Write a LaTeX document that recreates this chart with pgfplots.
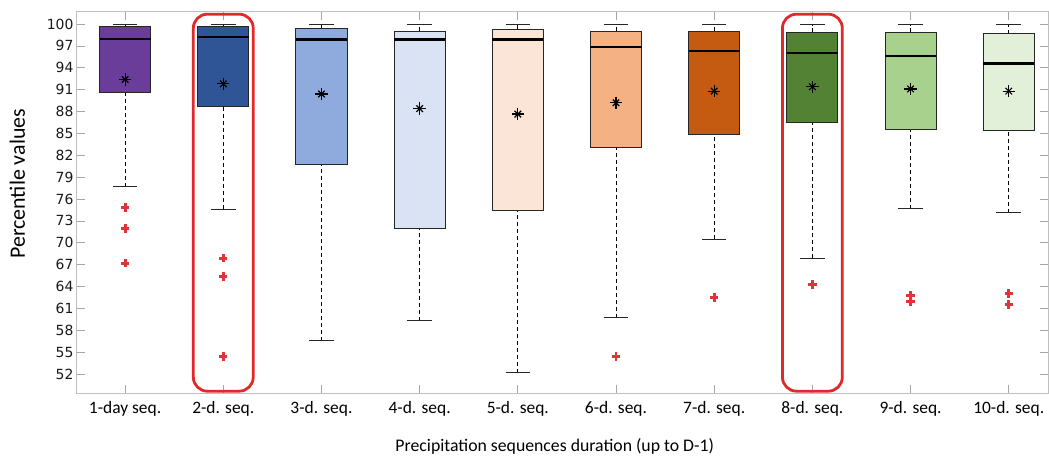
\documentclass[border=0pt]{standalone}
\usepackage{pgfplots}
\pgfplotsset{compat=1.18}
\usepackage{fontspec}
\setmainfont{Carlito}
\newfontfamily\dejavu{DejaVu Sans}
\definecolor{c1}{HTML}{6A3D9A}
\definecolor{c2}{HTML}{2F5597}
\definecolor{c3}{HTML}{8FAADC}
\definecolor{c4}{HTML}{DAE3F3}
\definecolor{c5}{HTML}{FBE5D6}
\definecolor{c6}{HTML}{F4B183}
\definecolor{c7}{HTML}{C55A11}
\definecolor{c8}{HTML}{548235}
\definecolor{c9}{HTML}{A9D18E}
\definecolor{c10}{HTML}{E2F0D9}
\definecolor{outred}{HTML}{E0343A}
\definecolor{annred}{HTML}{E02A2A}
\pgfplotsset{
  boxst/.style={fill=#1, draw=black!85, line width=0.9bp},
}
\begin{document}
\begin{tikzpicture}
\begin{axis}[
  name=ax,
  scale only axis, width=971bp, height=381bp,
  xmin=0.51, xmax=10.4, ymin=49.4, ymax=101.65,
  axis line style={draw=black!25, line width=1bp},
  tick align=inside,
  xtick pos=both, ytick pos=both,
  major tick length=8bp,
  tick style={black!35, line width=0.8bp},
  xtick={1,2,3,4,5,6,7,8,9,10},
  xticklabels={1-day seq., 2-d. seq., 3-d. seq., 4-d. seq., 5-d. seq., 6-d. seq., 7-d. seq., 8-d. seq., 9-d. seq., 10-d. seq.},
  xticklabel style={font=\fontsize{17.5}{20}\selectfont, yshift=-5bp},
  ytick={52,55,58,61,64,67,70,73,76,79,82,85,88,91,94,97,100},
  /pgf/number format/assume math mode=true,
  yticklabel style={font=\dejavu\fontsize{14}{16}\selectfont, text=black!90},
  xlabel={Precipitation sequences duration (up to D-1)},
  xlabel style={font=\fontsize{17.8}{21}\selectfont, at={(axis description cs:0.492,0)}, anchor=base, yshift=-58bp},
  ylabel={Percentile values},
  ylabel style={font=\fontsize{22}{26}\selectfont, at={(axis description cs:-0.0536,0.549)}, anchor=base},
  unbounded coords=jump,
]
% whiskers (dashed), from quartile to whisker end
\addplot[black, line width=0.9bp, dash pattern=on 4bp off 3bp] coordinates {
  (1,77.7)(1,90.6) (1,nan) (1,99.7)(1,99.9) (1,nan)
  (2,74.6)(2,88.75) (2,nan) (2,99.6)(2,99.9) (2,nan)
  (3,56.55)(3,80.75) (3,nan) (3,99.45)(3,99.9) (3,nan)
  (4,59.3)(4,71.97) (4,nan) (4,99.0)(4,99.9) (4,nan)
  (5,52.2)(5,74.5) (5,nan) (5,99.3)(5,99.9) (5,nan)
  (6,59.7)(6,83.1) (6,nan) (6,99.05)(6,99.9) (6,nan)
  (7,70.5)(7,84.9) (7,nan) (7,99.05)(7,99.9) (7,nan)
  (8,67.9)(8,86.5) (8,nan) (8,98.86)(8,99.9) (8,nan)
  (9,74.67)(9,85.5) (9,nan) (9,98.86)(9,99.9) (9,nan)
  (10,74.1)(10,85.46) (10,nan) (10,98.7)(10,99.9)};
% whisker caps
\addplot[black!85, line width=1.1bp] coordinates {
  (0.875,77.7)(1.125,77.7) (1,nan) (0.875,99.9)(1.125,99.9) (1,nan)
  (1.875,74.6)(2.125,74.6) (2,nan) (1.875,99.9)(2.125,99.9) (2,nan)
  (2.875,56.55)(3.125,56.55) (3,nan) (2.875,99.9)(3.125,99.9) (3,nan)
  (3.875,59.3)(4.125,59.3) (4,nan) (3.875,99.9)(4.125,99.9) (4,nan)
  (4.875,52.2)(5.125,52.2) (5,nan) (4.875,99.9)(5.125,99.9) (5,nan)
  (5.875,59.7)(6.125,59.7) (6,nan) (5.875,99.9)(6.125,99.9) (6,nan)
  (6.875,70.5)(7.125,70.5) (7,nan) (6.875,99.9)(7.125,99.9) (7,nan)
  (7.875,67.9)(8.125,67.9) (8,nan) (7.875,99.9)(8.125,99.9) (8,nan)
  (8.875,74.67)(9.125,74.67) (9,nan) (8.875,99.9)(9.125,99.9) (9,nan)
  (9.875,74.1)(10.125,74.1) (10,nan) (9.875,99.9)(10.125,99.9)};
% boxes: lower quartile to upper quartile
\addplot[boxst=c1] coordinates {(0.74,90.6)(1.26,90.6)(1.26,99.7)(0.74,99.7)} -- cycle;
\addplot[boxst=c2] coordinates {(1.74,88.75)(2.26,88.75)(2.26,99.6)(1.74,99.6)} -- cycle;
\addplot[boxst=c3] coordinates {(2.74,80.75)(3.26,80.75)(3.26,99.45)(2.74,99.45)} -- cycle;
\addplot[boxst=c4] coordinates {(3.74,71.97)(4.26,71.97)(4.26,99.0)(3.74,99.0)} -- cycle;
\addplot[boxst=c5] coordinates {(4.74,74.5)(5.26,74.5)(5.26,99.3)(4.74,99.3)} -- cycle;
\addplot[boxst=c6] coordinates {(5.74,83.1)(6.26,83.1)(6.26,99.05)(5.74,99.05)} -- cycle;
\addplot[boxst=c7] coordinates {(6.74,84.9)(7.26,84.9)(7.26,99.05)(6.74,99.05)} -- cycle;
\addplot[boxst=c8] coordinates {(7.74,86.5)(8.26,86.5)(8.26,98.86)(7.74,98.86)} -- cycle;
\addplot[boxst=c9] coordinates {(8.74,85.5)(9.26,85.5)(9.26,98.86)(8.74,98.86)} -- cycle;
\addplot[boxst=c10] coordinates {(9.74,85.46)(10.26,85.46)(10.26,98.7)(9.74,98.7)} -- cycle;
% medians
\addplot[black, line width=2.4bp] coordinates {
  (0.74,97.95)(1.26,97.95) (1,nan)
  (1.74,98.2)(2.26,98.2) (2,nan)
  (2.74,97.9)(3.26,97.9) (3,nan)
  (3.74,97.9)(4.26,97.9) (4,nan)
  (4.74,97.9)(5.26,97.9) (5,nan)
  (5.74,96.85)(6.26,96.85) (6,nan)
  (6.74,96.3)(7.26,96.3) (7,nan)
  (7.74,96.0)(8.26,96.0) (8,nan)
  (8.74,95.65)(9.26,95.65) (9,nan)
  (9.74,94.6)(10.26,94.6)};
% means (8-arm asterisk: + and x overlaid)
\addplot[only marks, mark=+, mark size=6.2bp, line width=1.2bp, black] coordinates {
  (1,92.4) (2,91.8) (3,90.4) (4,88.4) (5,87.65) (6,89.2) (7,90.8) (8,91.4) (9,91.1) (10,90.8)};
\addplot[only marks, mark=x, mark size=4.6bp, line width=1.2bp, black] coordinates {
  (1,92.4) (2,91.8) (3,90.4) (4,88.4) (5,87.65) (6,89.2) (7,90.8) (8,91.4) (9,91.1) (10,90.8)};
% outliers
\addplot[only marks, mark=+, mark size=4.2bp, line width=2.8bp, outred] coordinates {
  (1,74.85) (1,71.97) (1,67.2)
  (2,67.9) (2,65.4) (2,54.4)
  (6,54.4)
  (7,62.5)
  (8,64.3)
  (9,62.8) (9,61.9)
  (10,63.05) (10,61.55)};
\draw[annred, line width=2.8bp, rounded corners=14bp] (axis cs:1.695,49.65) rectangle (axis cs:2.305,101.35);
\draw[annred, line width=2.8bp, rounded corners=14bp] (axis cs:7.695,49.65) rectangle (axis cs:8.305,101.35);
\end{axis}
\pgfresetboundingbox
\useasboundingbox ([xshift=-77bp,yshift=-62bp]ax.south west) rectangle ([xshift=1bp,yshift=12bp]ax.north east);
\end{tikzpicture}
\end{document}
